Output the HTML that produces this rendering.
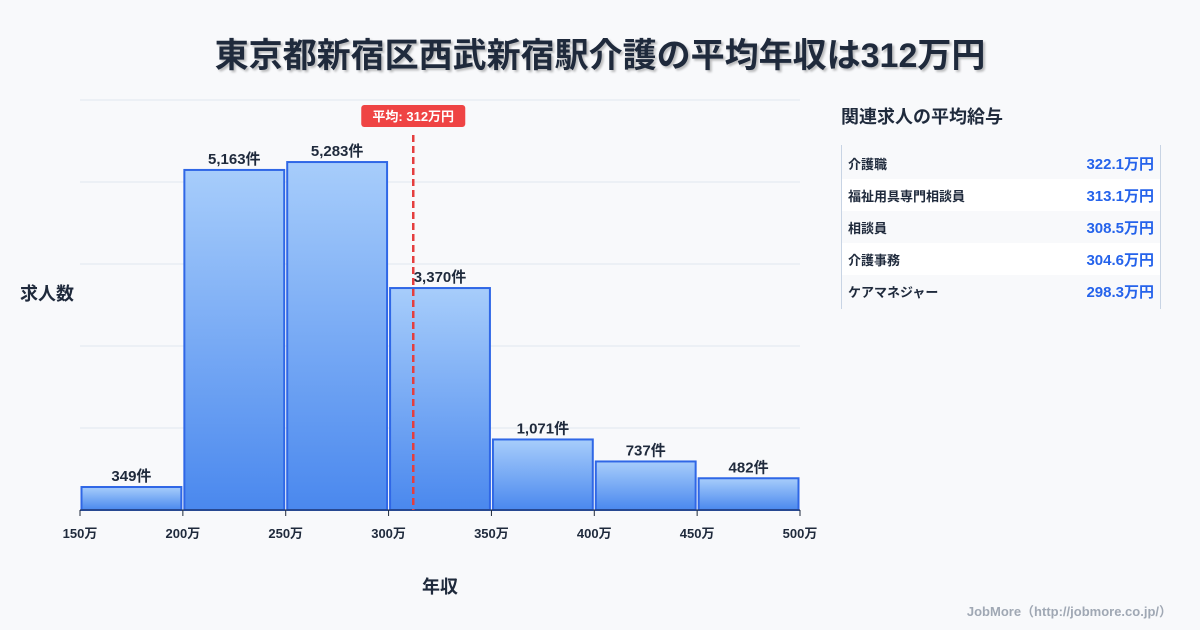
<!DOCTYPE html>
<html><head><meta charset="utf-8">
<style>
body{margin:0;width:1200px;height:630px;background:#f8f9fb;font-family:"Liberation Sans","Noto Sans CJK JP",sans-serif;overflow:hidden;position:relative}
.title{position:absolute;left:0;top:28px;width:1200px;text-align:center;font-size:34px;font-weight:700;color:#1f2a3c;text-shadow:2px 2px 2px rgba(0,0,0,.25)}
.side-title{position:absolute;left:841px;top:103px;font-size:18px;font-weight:700;color:#1f2a3c}
.side{position:absolute;left:841px;top:145px;width:318px;height:162px;border-left:1.5px solid #c8d4e4;border-right:1.5px solid #c8d4e4;padding-top:2px}
.row{height:32px;display:flex;justify-content:space-between;align-items:center;padding:0 6px 0 6px;font-size:13px;font-weight:700;color:#1f2a3c}
.row:nth-child(even){background:#fff}
.row span:last-child{color:#2563eb;font-size:15px}
.credit{position:absolute;right:28px;top:601px;font-size:13px;font-weight:700;color:#a0a8b4}
</style></head><body>
<div class="title">東京都新宿区西武新宿駅介護の平均年収は312万円</div>
<svg id="chart" width="830" height="630" style="position:absolute;left:0;top:0">
<defs><linearGradient id="g" x1="0" y1="0" x2="0" y2="1"><stop offset="0" stop-color="#a7cdfb"/><stop offset="1" stop-color="#4a88ee"/></linearGradient></defs>
</svg>
<div class="side-title">関連求人の平均給与</div>
<div class="side">
<div class="row"><span>介護職</span><span>322.1万円</span></div>
<div class="row"><span>福祉用具専門相談員</span><span>313.1万円</span></div>
<div class="row"><span>相談員</span><span>308.5万円</span></div>
<div class="row"><span>介護事務</span><span>304.6万円</span></div>
<div class="row"><span>ケアマネジャー</span><span>298.3万円</span></div>
</div>
<div class="credit">JobMore（http://jobmore.co.jp/）</div>
<script>
const binStarts=[150,200,250,300,350,400,450];
const counts=[349,5163,5283,3370,1071,737,482];
const xTicks=[150,200,250,300,350,400,450,500];
const avgValue=312;
const yMax=6225;
const NS="http://www.w3.org/2000/svg";
const svg=document.getElementById('chart');
const X0=80,X1=800,Y0=510,Y1=100;
const xs=v=>X0+(v-150)/(500-150)*(X1-X0);
const ys=v=>Y0-v/yMax*(Y0-Y1);
function mk(t,a){const e=document.createElementNS(NS,t);for(const k in a)e.setAttribute(k,a[k]);svg.appendChild(e);return e;}
for(let i=0;i<=5;i++){const y=Y0-i*(Y0-Y1)/5;
const l=mk('line',{x1:X0,x2:X1,y1:y,y2:y,stroke:'#e1e7ef','stroke-width':1});

}
binStarts.forEach((b,i)=>{
const x=xs(b)+1.5,w=xs(b+50)-xs(b)-3,y=ys(counts[i]);
const r=mk('rect',{x:x,y:y,width:w,height:Y0-y,fill:'url(#g)',stroke:'#2f67e6','stroke-width':2});


const t=mk('text',{x:x+w/2,y:y-6,'text-anchor':'middle','font-size':15,'font-weight':700,fill:'#1f2a3c'});
t.textContent=counts[i].toLocaleString('en-US')+'件';


});
const ax=mk('line',{x1:X0,x2:X1,y1:Y0,y2:Y0,stroke:'#1f2a3c','stroke-width':1});


xTicks.forEach(v=>{
const tk=mk('line',{x1:xs(v),x2:xs(v),y1:Y0,y2:Y0+6,stroke:'#1f2a3c'});


const t=mk('text',{x:xs(v),y:Y0+28,'text-anchor':'middle','font-size':13,'font-weight':700,fill:'#1f2a3c'});
t.textContent=v+'万';


});
const ax2=xs(avgValue);
const al=mk('line',{x1:ax2,x2:ax2,y1:135,y2:Y0,stroke:'#e53e3e','stroke-width':2.5,'stroke-dasharray':'7,4'});


const ab=mk('rect',{x:ax2-52,y:105,width:104,height:22,rx:3,fill:'#ef4444'});


const at=mk('text',{x:ax2,y:121,'text-anchor':'middle','font-size':13,'font-weight':700,fill:'#fff'});
at.textContent='平均: '+avgValue+'万円';


const yt=mk('text',{x:20,y:300,'font-size':18,'font-weight':700,fill:'#1f2a3c'});
yt.textContent='求人数';


const xt=mk('text',{x:440,y:593,'text-anchor':'middle','font-size':18,'font-weight':700,fill:'#1f2a3c'});
xt.textContent='年収';


</script>
</body></html>
